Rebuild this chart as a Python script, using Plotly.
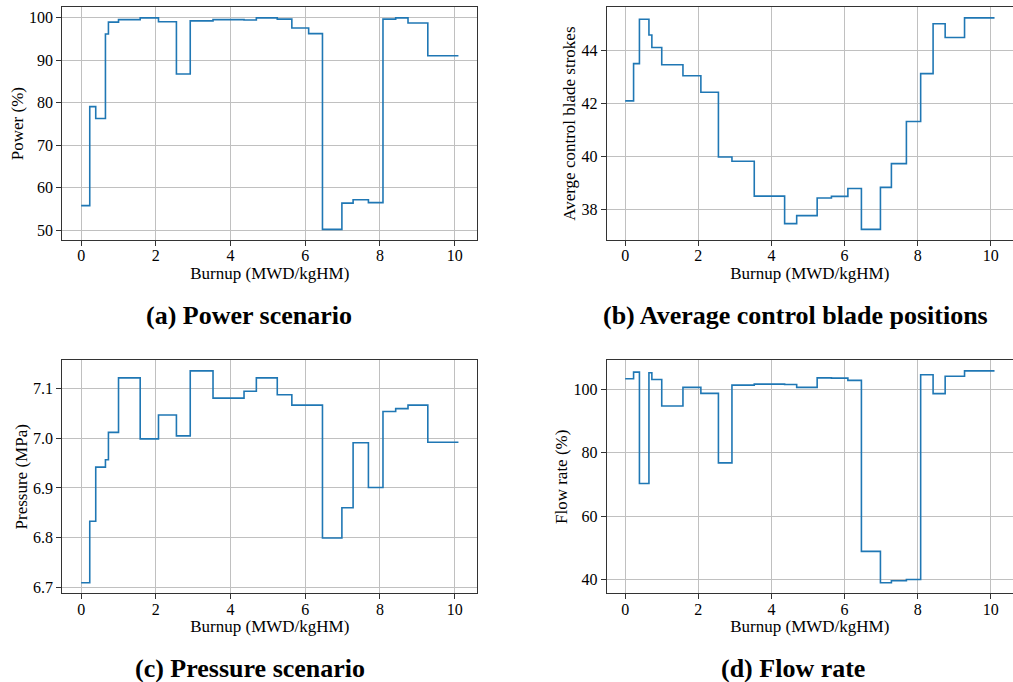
import plotly.graph_objects as go
from plotly.subplots import make_subplots

# Burnup breakpoints (MWD/kgHM) shared by all four step series
burnup = [0.0, 0.23, 0.39, 0.65, 0.73, 1.0, 1.58, 2.07, 2.55, 2.92, 3.53, 4.36,
          4.69, 5.25, 5.64, 6.09, 6.46, 6.98, 7.28, 7.69, 8.08, 8.42, 8.75, 9.28, 10.1]

power = [55.8, 79.1, 76.3, 96.2, 99.0, 99.6, 100.0, 99.1, 86.8, 99.3, 99.6, 99.5,
         100.0, 99.7, 97.6, 96.3, 50.2, 56.4, 57.2, 56.5, 99.7, 100.0, 98.8, 91.1]

blade = [42.09, 43.5, 45.18, 44.58, 44.11, 43.46, 43.04, 42.42, 39.97, 39.81, 38.49, 37.45,
         37.75, 38.42, 38.48, 38.78, 37.23, 38.82, 39.72, 41.31, 43.12, 45.01, 44.49, 45.23]

pressure = [6.709, 6.833, 6.942, 6.957, 7.012, 7.122, 6.999, 7.047, 7.005, 7.136, 7.081, 7.095,
            7.122, 7.088, 7.067, 7.067, 6.799, 6.860, 6.991, 6.901, 7.054, 7.060, 7.067, 6.992]

flow = [103.4, 105.5, 70.3, 105.3, 103.2, 94.8, 100.7, 98.8, 76.8, 101.4, 101.7, 101.6,
        100.7, 103.7, 103.6, 102.9, 48.8, 38.9, 39.5, 39.9, 104.7, 98.7, 104.2, 105.9]

y_titles = ["Power (%)", "Averge control blade strokes", "Pressure (MPa)", "Flow rate (%)"]
captions = ["(a) Power scenario", "(b) Average control blade positions",
            "(c) Pressure scenario", "(d) Flow rate"]
x_title = "Burnup (MWD/kgHM)"

W, H = 1013, 682
FONT = "Liberation Serif"
LINE = "#1f77b4"
SPINE = "#333333"
GRID = "#c0c0c0"

fig = make_subplots(rows=2, cols=2)
series = [power, blade, pressure, flow]
for i, s in enumerate(series):
    r, c = i // 2 + 1, i % 2 + 1
    fig.add_trace(go.Scatter(x=burnup, y=s + [s[-1]], mode="lines", line_shape="hv",
                             line=dict(color=LINE, width=1.6), showlegend=False,
                             hoverinfo="skip"),
                  row=r, col=c)

def pad(vals, frac=0.05):
    lo, hi = min(vals), max(vals)
    d = (hi - lo) * frac
    return [lo - d, hi + d]

xr = pad(burnup)
# pixel boxes of the axes (left, right, top, bottom)
boxes = [(62.3, 477.3, 7.3, 240.0), (606.7, 1013.0, 7.3, 240.0),
         (62.3, 477.3, 360.3, 593.3), (606.7, 1013.0, 360.3, 593.3)]
yticks = [dict(tickvals=[50, 60, 70, 80, 90, 100]),
          dict(tickvals=[38, 40, 42, 44]),
          dict(tickvals=[6.7, 6.8, 6.9, 7.0, 7.1], tickformat=".1f"),
          dict(tickvals=[40, 60, 80, 100])]

axis_common = dict(showline=True, linecolor=SPINE, linewidth=1,
                   ticks="outside", ticklen=5, tickwidth=1, tickcolor=SPINE,
                   showgrid=True, gridcolor=GRID, gridwidth=1, zeroline=False,
                   automargin=False,
                   tickfont=dict(family=FONT, size=16, color="black"))

for i, s in enumerate(series):
    l, rgt, t, b = boxes[i]
    xd = [l / W, min(rgt / W, 1.0)]
    yd = [1 - b / H, 1 - t / H]
    sfx = "" if i == 0 else str(i + 1)
    fig.layout["xaxis" + sfx].update(domain=xd, range=xr, tickvals=[0, 2, 4, 6, 8, 10],
                                     mirror=True, ticklabelstandoff=-4,
                                     title=dict(text=x_title, font=dict(family=FONT, size=17, color="black"),
                                                standoff=0),
                                     **axis_common)
    fig.layout["yaxis" + sfx].update(domain=yd, range=pad(s), mirror=(i % 2 == 0),
                                     title=dict(text=y_titles[i], font=dict(family=FONT, size=17, color="black"),
                                                standoff=1),
                                     **yticks[i], **axis_common)

cap_pos = [(249, 315), (795, 315), (250, 668), (793, 668)]
for txt, (cx, cy) in zip(captions, cap_pos):
    fig.add_annotation(text="<b>" + txt + "</b>", x=cx / W, y=1 - cy / H, xref="paper", yref="paper",
                       xanchor="center", yanchor="middle", showarrow=False,
                       font=dict(family=FONT, size=26, color="black"))

fig.update_layout(width=W, height=H, margin=dict(l=0, r=0, t=0, b=0, autoexpand=False),
                  paper_bgcolor="white", plot_bgcolor="white",
                  font=dict(family=FONT, color="black"))

fig.write_html("out.html", config={"displayModeBar": False},
               post_script="document.body.style.margin='0';document.body.style.overflow='hidden';")
